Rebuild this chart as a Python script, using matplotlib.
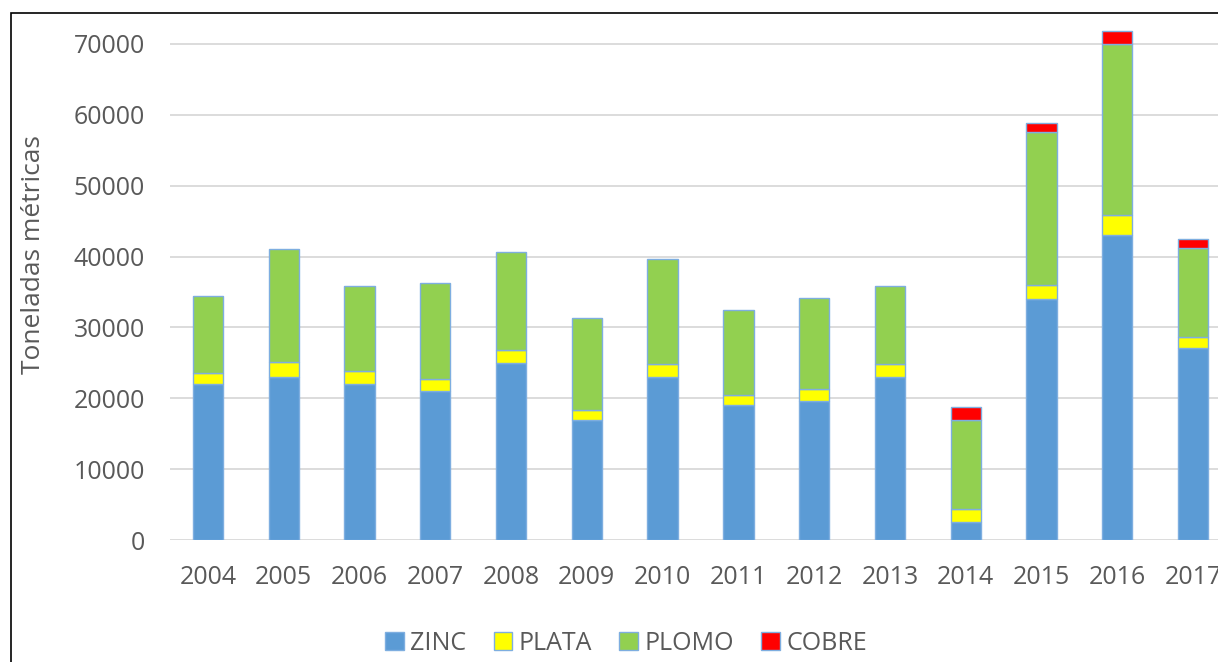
import numpy as np
import matplotlib
matplotlib.use("Agg")
import matplotlib.pyplot as plt
from matplotlib.patches import Rectangle, Patch

years = ["2004", "2005", "2006", "2007", "2008", "2009", "2010",
         "2011", "2012", "2013", "2014", "2015", "2016", "2017"]
zinc = [22000, 23000, 22000, 21000, 25000, 16900, 23000,
        19000, 19600, 23000, 2500, 34000, 43100, 27100]
plata = [1500, 2100, 1800, 1700, 1800, 1400, 1800,
         1500, 1700, 1800, 1900, 2000, 2700, 1500]
plomo = [11000, 15900, 12100, 13600, 13900, 13000, 14900,
         11900, 12900, 11100, 12500, 21600, 24200, 12600]
cobre = [0, 0, 0, 0, 0, 0, 0, 0, 0, 0, 1800, 1300, 1800, 1300]

colors = ["#5b9bd5", "#ffff00", "#92d050", "#ff0000"]
names = ["ZINC", "PLATA", "PLOMO", "COBRE"]
edge = "#7eaee0"
txt = "#595959"

plt.rcParams["font.family"] = ["Open Sans", "DejaVu Sans"]

W, H = 1218, 662
fig = plt.figure(figsize=(W / 100, H / 100), dpi=100)

# outer chart frame, cut off on the right and bottom as in the original
fig.patches.append(Rectangle((11 / W, -0.2), 1.2, 1.2 - 13 / H,
                             transform=fig.transFigure, fill=False,
                             edgecolor="black", linewidth=1.2))

ax_w = (1231 - 170)
ax_h = (540 - 15.6)
ax = fig.add_axes([170 / W, (H - 540) / H, ax_w / W, ax_h / H])

x = np.arange(len(years))
bottom = np.zeros(len(years))
for vals, c in zip([zinc, plata, plomo, cobre], colors):
    vals = np.array(vals, dtype=float)
    mask = vals > 0
    ax.bar(x[mask], vals[mask], 0.4, bottom=bottom[mask], color=c,
           edgecolor=edge, linewidth=1, zorder=3)
    bottom += vals

ax.set_xlim(-0.5, len(years) - 0.5)
ax.set_ylim(0, 74000)
ax.set_yticks(np.arange(0, 70001, 10000))
ax.set_xticks(x)
ax.set_xticklabels(years)
ax.yaxis.grid(True, color="#d9d9d9", linewidth=1.3, zorder=0)
ax.set_axisbelow(True)
for s in ax.spines.values():
    s.set_visible(False)
ax.tick_params(axis="both", length=0, labelsize=18, colors=txt)
ax.tick_params(axis="y", pad=18)
ax.tick_params(axis="x", pad=18)
ax.set_ylabel("Toneladas métricas", fontsize=19, color=txt)
ax.yaxis.set_label_coords((46 - 170) / ax_w, (540 - 255) / ax_h)

handles = [Patch(facecolor=c, edgecolor=edge) for c in colors]
fig.legend(handles, names, loc="center", bbox_to_anchor=(626 / W, 1 - 643 / H),
           ncol=4, frameon=False, fontsize=18, labelcolor=txt,
           handlelength=0.75, handleheight=0.75, handletextpad=0.25, columnspacing=1.1)

fig.savefig("out.png", dpi=100)
